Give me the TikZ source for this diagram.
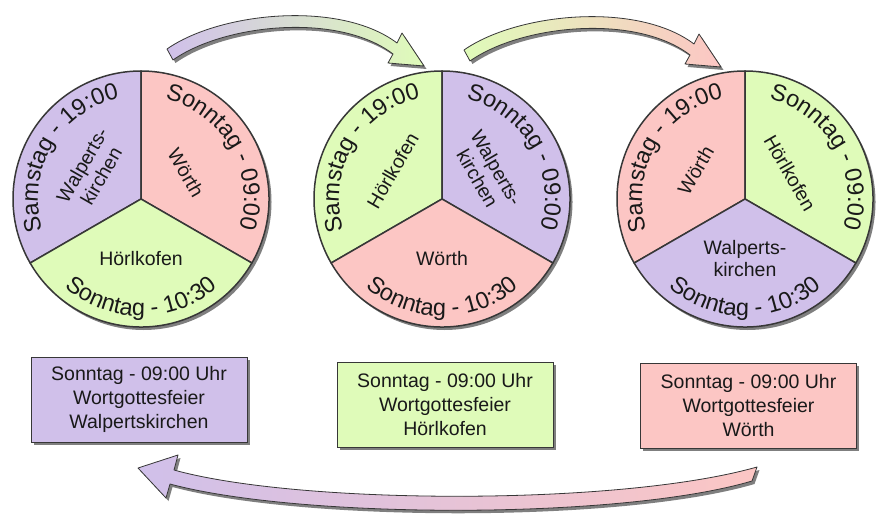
\documentclass[tikz,border=0pt]{standalone}
\usepackage{fontspec}
\setmainfont{Liberation Sans}
\usetikzlibrary{decorations.text,shadows,calc}
\definecolor{lila}{RGB}{208,192,234}
\definecolor{rosa}{RGB}{252,198,196}
\definecolor{gruen}{RGB}{223,251,185}
\definecolor{rand}{RGB}{55,55,55}
\definecolor{schrift}{RGB}{25,25,25}
\newcommand\curvefont{\color{schrift}\fontsize{23.5}{23.5}\selectfont}
\newcommand\innerfont{\fontsize{19.5}{22}\selectfont}
\newcommand\boxfont{\fontsize{19.5}{24}\selectfont}
\tikzset{
  sector/.style={draw=rand, line width=1.5pt, line join=round},
  myshadow/.style={drop shadow={shadow xshift=2.5pt, shadow yshift=-3pt, fill=black, opacity=0.5}},
  innertext/.style={font=\innerfont, text=schrift, align=center, inner sep=0pt},
  boxnode/.style={draw=rand, line width=1pt, minimum width=216pt, minimum height=85pt,
    font=\boxfont, align=center, text=schrift, myshadow},
  arrowshape/.style={draw=rand, line width=0.8pt, line join=round, myshadow}
}
\newcommand\pie[9]{%
  \coordinate (#1) at (#2,#3);
  \fill[myshadow, white] (#1) circle[radius=128];
  \filldraw[sector, fill=#4] (#1) -- ++(90:128) arc[start angle=90,end angle=210,radius=128] -- cycle;
  \filldraw[sector, fill=#5] (#1) -- ++(-30:128) arc[start angle=-30,end angle=90,radius=128] -- cycle;
  \filldraw[sector, fill=#6] (#1) -- ++(210:128) arc[start angle=210,end angle=330,radius=128] -- cycle;
  \path[decorate, decoration={text along path, text={|\curvefont|Samstag - 19:00}, text align=center}]
    ($(#1)+(208:103)$) arc[start angle=208,end angle=92,radius=103];
  \path[decorate, decoration={text along path, text={|\curvefont|Sonntag - 09:00}, text align=center}]
    ($(#1)+(88:103)$) arc[start angle=88,end angle=-28,radius=103];
  \path[decorate, decoration={text along path, text={|\curvefont|Sonntag - 10:30}, text align=center}]
    ($(#1)+(205:117)$) arc[start angle=205,end angle=335,radius=117];
  \node[innertext, rotate=60] (#1l) at ($(#1)+(150:57)$) {#7};
  \node[innertext, rotate=-60] (#1r) at ($(#1)+(30:52)$) {#8};
  \node[innertext] (#1b) at ($(#1)+(270:60)$) {#9};
}
\begin{document}
\begin{tikzpicture}[x=1pt,y=1pt]
\useasboundingbox (0,0) rectangle (877,515);
\fill[white] (0,0) rectangle (877,515);

% top arrows
\path[arrowshape, left color=lila, right color=gruen]
  (167,466) .. controls (220,503) and (340,515) .. (397,472) -- (402,482) -- (424,449)
  -- (388,452) -- (393,461) .. controls (338,503) and (224,491) .. (173,455) -- cycle;
\path[arrowshape, left color=gruen, right color=rosa]
  (464,465) .. controls (517,502) and (637,514) .. (694,471) -- (699,481) -- (721,448)
  -- (685,451) -- (690,460) .. controls (635,502) and (521,490) .. (470,454) -- cycle;

% pies
\pie{p1}{141}{316}{lila}{rosa}{gruen}{Walperts-\\kirchen}{Wörth}{Hörlkofen}
\pie{p2}{442}{316}{gruen}{lila}{rosa}{Hörlkofen}{Walperts-\\kirchen}{Wörth}
\pie{p3}{745}{316}{rosa}{gruen}{lila}{Wörth}{Hörlkofen}{Walperts-\\kirchen}

% boxes
\node[boxnode, fill=lila] (b1) at (139,115.5) {Sonntag - 09:00 Uhr\\Wortgottesfeier\\Walpertskirchen};
\node[boxnode, fill=gruen] (b2) at (445,110.5) {Sonntag - 09:00 Uhr\\Wortgottesfeier\\Hörlkofen};
\node[boxnode, fill=rosa] (b3) at (748.5,109.5) {Sonntag - 09:00 Uhr\\Wortgottesfeier\\Wörth};

% bottom arrow
\path[arrowshape, left color=lila, right color=rosa]
  (757,48) .. controls (620,9) and (300,10) .. (174,45) -- (178,60) -- (138,47)
  -- (166,17) -- (170,31) .. controls (300,-4) and (620,-5) .. (752,34) -- cycle;
\end{tikzpicture}
\end{document}
